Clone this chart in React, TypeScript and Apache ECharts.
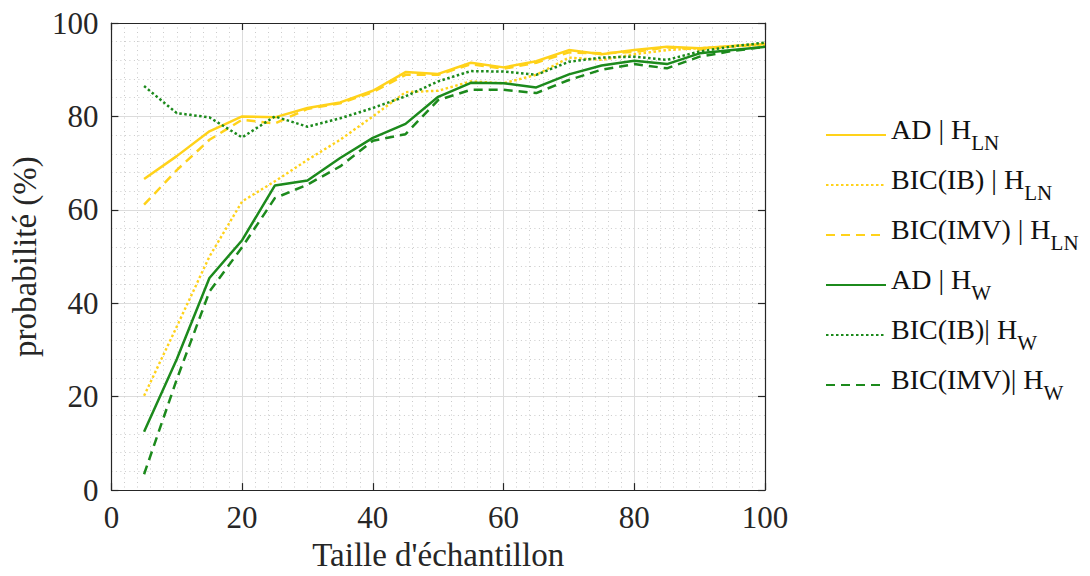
import React, { useEffect, useRef } from "react";
import * as echarts from "echarts";

const sampleSizes = [5, 10, 15, 20, 25, 30, 35, 40, 45, 50, 55, 60, 65, 70, 75, 80, 85, 90, 95, 100];

const adHLN = [66.6, 71.5, 76.8, 80.0, 79.8, 81.8, 83.0, 85.5, 89.5, 89.1, 91.5, 90.5, 91.8, 94.2, 93.3, 94.2, 94.9, 94.6, 95.1, 95.5];
const bicIbHLN = [20.2, 35.0, 50.0, 61.8, 66.1, 70.7, 75.0, 80.0, 85.2, 85.5, 87.5, 87.1, 88.9, 92.6, 92.1, 93.3, 94.2, 94.6, 95.0, 95.3];
const bicImvHLN = [61.1, 68.5, 75.0, 79.3, 78.5, 81.6, 82.8, 85.2, 88.9, 88.9, 91.2, 90.2, 91.5, 93.7, 93.5, 93.8, 94.8, 94.3, 95.0, 95.5];
const adHW = [12.5, 28.0, 45.4, 53.5, 65.2, 66.3, 71.1, 75.4, 78.4, 84.2, 87.2, 87.1, 86.2, 89.0, 90.9, 91.9, 91.2, 93.5, 94.2, 94.9];
const bicIbHW = [86.5, 80.7, 79.8, 75.5, 80.0, 77.8, 79.6, 81.8, 84.3, 87.5, 89.7, 89.6, 88.9, 91.7, 92.6, 92.8, 92.1, 93.9, 95.0, 95.8];
const bicImvHW = [3.4, 23.7, 42.5, 52.0, 62.5, 65.4, 69.3, 74.8, 76.2, 83.5, 85.7, 85.7, 85.0, 87.8, 90.0, 91.2, 90.3, 92.8, 94.0, 94.9];

const seriesNames = ["AD | H_LN", "BIC(IB) | H_LN", "BIC(IMV) | H_LN", "AD | H_W", "BIC(IB)| H_W", "BIC(IMV)| H_W"];
const labelMain = ["AD | H", "BIC(IB) | H", "BIC(IMV) | H", "AD | H", "BIC(IB)| H", "BIC(IMV)| H"];
const labelSub = ["LN", "LN", "LN", "W", "W", "W"];
const seriesValues = [adHLN, bicIbHLN, bicImvHLN, adHW, bicIbHW, bicImvHW];

const xTicks = { min: 0, max: 100, interval: 20 };
const yTicks = { min: 0, max: 100, interval: 20 };
const xAxisTitle = "Taille d'échantillon";
const yAxisTitle = "probabilité (%)";

const YELLOW = "#FFD21A";
const GREEN = "#1C8A1C";
const colors = [YELLOW, YELLOW, YELLOW, GREEN, GREEN, GREEN];
const dashes: any[] = ["solid", [2.5, 2.5], [9, 6], "solid", [2.5, 2.5], [9, 6]];
const widths = [2.5, 2.4, 2.5, 2.5, 2.5, 2.5];

const FONT = "'Liberation Serif', 'Times New Roman', serif";
const AXIS_COLOR = "#262626";

export default function App() {
  const ref = useRef<HTMLDivElement>(null);
  useEffect(() => {
    if (!ref.current) return;
    const chart = echarts.init(ref.current, undefined, { renderer: "svg" });
    const baseAxis = {
      type: "value" as const,
      axisLine: { show: true, onZero: false, lineStyle: { color: AXIS_COLOR, width: 1.2 } },
      axisTick: { show: true, inside: true, length: 7, lineStyle: { color: AXIS_COLOR, width: 1.2 } },
    };
    const minorLine = { show: true, lineStyle: { color: "#cbcbcb", width: 1, type: [1, 3.5] } };
    const option: any = {
      animation: false,
      backgroundColor: "#ffffff",
      grid: { left: 108, right: 325, top: 23, bottom: 85, containLabel: false },
      xAxis: [
        {
          ...baseAxis,
          ...xTicks,
          position: "bottom",
          name: xAxisTitle,
          nameLocation: "middle",
          nameGap: 47,
          nameTextStyle: { fontFamily: FONT, fontSize: 33, color: AXIS_COLOR },
          axisLabel: { fontFamily: FONT, fontSize: 31, color: AXIS_COLOR, margin: 12 },
          splitLine: { show: true, lineStyle: { color: "#dcdcdc", width: 1 } },
          minorTick: { show: false, splitNumber: 10 },
          minorSplitLine: minorLine,
        },
        {
          ...baseAxis,
          ...xTicks,
          position: "top",
          axisLabel: { show: false },
          splitLine: { show: false },
        },
      ],
      yAxis: [
        {
          ...baseAxis,
          ...yTicks,
          position: "left",
          name: yAxisTitle,
          nameLocation: "middle",
          nameGap: 56,
          nameRotate: 90,
          nameTextStyle: { fontFamily: FONT, fontSize: 33, color: AXIS_COLOR },
          axisLabel: { fontFamily: FONT, fontSize: 31, color: AXIS_COLOR, margin: 13 },
          splitLine: { show: true, lineStyle: { color: "#dcdcdc", width: 1 } },
          minorTick: { show: false, splitNumber: 5 },
          minorSplitLine: minorLine,
        },
        {
          ...baseAxis,
          ...yTicks,
          position: "right",
          axisLabel: { show: false },
          splitLine: { show: false },
        },
      ],
      legend: {
        orient: "vertical",
        left: 825,
        top: 115,
        padding: 0,
        itemWidth: 60,
        itemHeight: 14,
        itemGap: 12,
        data: seriesNames,
        itemStyle: { opacity: 0, borderWidth: 0 },
        formatter: (name: string) => {
          const i = seriesNames.indexOf(name);
          return `{m|${labelMain[i]}}{s|${labelSub[i]}}`;
        },
        textStyle: {
          fontFamily: FONT,
          color: "#111111",
          rich: {
            m: { fontFamily: FONT, fontSize: 28, color: "#111111", padding: [0, 0, 12, 0] },
            s: { fontFamily: FONT, fontSize: 21, color: "#111111", padding: [15, 0, 0, 0] },
          },
        },
      },
      series: seriesValues.map((vals, i) => ({
        name: seriesNames[i],
        type: "line",
        xAxisIndex: 0,
        yAxisIndex: 0,
        showSymbol: false,
        symbol: "none",
        data: sampleSizes.map((x, j) => [x, vals[j]]),
        lineStyle: { color: colors[i], width: widths[i], type: dashes[i] },
        itemStyle: { color: colors[i] },
      })),
    };
    chart.setOption(option);
    return () => chart.dispose();
  }, []);
  return (
    <div
      ref={ref}
      style={{ position: "fixed", left: 0, top: 0, width: 1090, height: 576, background: "#fff" }}
    />
  );
}
